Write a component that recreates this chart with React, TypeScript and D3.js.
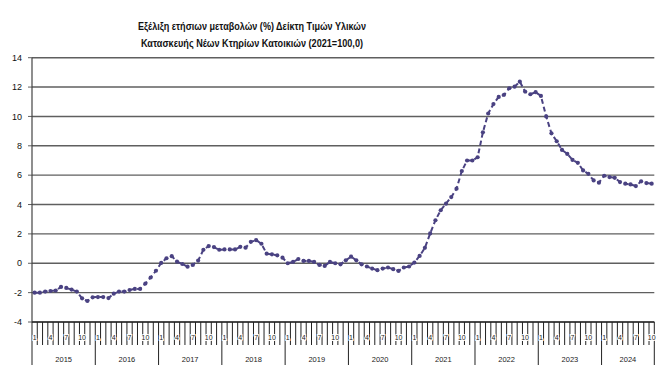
import React from "react";
import * as d3 from "d3";

const titleLines = [
  "Εξέλιξη ετήσιων μεταβολών (%) Δείκτη Τιμών Υλικών",
  "Κατασκευής Νέων Κτηρίων Κατοικιών (2021=100,0)",
];
const years = ["2015", "2016", "2017", "2018", "2019", "2020", "2021", "2022", "2023", "2024"];
const monthLabels = ["1", "4", "7", "10"];
const yTicks = [-4, -2, 0, 2, 4, 6, 8, 10, 12, 14];

const v2015 = [-2.0, -2.0, -1.93, -1.89, -1.86, -1.61, -1.68, -1.79, -1.93, -2.39, -2.57, -2.32];
const v2016 = [-2.3, -2.3, -2.37, -2.07, -1.93, -1.93, -1.82, -1.75, -1.75, -1.38, -0.97, -0.51];
const v2017 = [0.02, 0.34, 0.48, 0.11, -0.05, -0.23, -0.11, 0.18, 0.92, 1.17, 1.1, 0.92];
const v2018 = [0.94, 0.94, 0.94, 1.12, 1.06, 1.46, 1.57, 1.33, 0.65, 0.61, 0.54, 0.38];
const v2019 = [0.0, 0.09, 0.29, 0.16, 0.16, 0.09, -0.11, -0.18, 0.09, 0.0, -0.07, 0.2];
const v2020 = [0.45, 0.2, -0.07, -0.22, -0.36, -0.47, -0.36, -0.29, -0.4, -0.52, -0.29, -0.22];
const v2021 = [0.05, 0.5, 1.05, 2.03, 2.93, 3.61, 4.06, 4.51, 5.08, 6.28, 7.0, 7.0];
const v2022 = [7.22, 8.92, 10.2, 10.84, 11.33, 11.47, 11.92, 12.03, 12.37, 11.69, 11.51, 11.65];
const v2023 = [11.4, 10.0, 8.85, 8.31, 7.72, 7.45, 7.04, 6.84, 6.32, 6.09, 5.64, 5.49];
const v2024 = [5.96, 5.87, 5.82, 5.53, 5.42, 5.37, 5.26, 5.58, 5.46, 5.42];

const values = [...v2015, ...v2016, ...v2017, ...v2018, ...v2019, ...v2020, ...v2021, ...v2022, ...v2023, ...v2024];

export default function App() {
  const W = 663, H = 381;
  const left = 32, right = 654.3, top = 57.7, bottom = 322;
  const n = values.length;
  const idx = d3.range(n);
  const x = d3.scaleBand<number>().domain(idx).range([left, right]).paddingInner(0).paddingOuter(0);
  const y = d3.scaleLinear().domain([-4, 14]).range([bottom, top]);
  const bw = x.bandwidth();
  const cx = (i: number) => (x(i) as number) + bw / 2;
  const line = d3.line<number>().x((_, i) => cx(i)).y((d) => y(d));
  const color = "#4a4282";
  const font = "'Liberation Sans', Arial, sans-serif";
  const gridColor = "#5f5f5f";

  return (
    <svg width={W} height={H} style={{ position: "absolute", left: 0, top: 0, background: "#fff" }}>
      {titleLines.map((t, k) => (
        <text key={k} x={252} y={30 + k * 17} textAnchor="middle" fontFamily={font} fontWeight="bold"
          fontSize={10.5} textLength={k === 0 ? 228 : 222} lengthAdjust="spacingAndGlyphs" fill="#111">{t}</text>
      ))}
      {yTicks.map((t) => (
        <g key={t}>
          <line x1={left} x2={right} y1={y(t)} y2={y(t)} stroke={gridColor} strokeWidth={1.4} />
          <line x1={left - 4} x2={left} y1={y(t)} y2={y(t)} stroke={gridColor} strokeWidth={1} />
          <text x={22} y={y(t)} dy="0.35em" textAnchor="end" fontFamily={font} fontSize={9} fill="#111">{t}</text>
        </g>
      ))}
      <line x1={left} x2={left} y1={top} y2={bottom} stroke="#444" strokeWidth={1.2} />
      <line x1={left} x2={right} y1={bottom} y2={bottom} stroke="#333" strokeWidth={1.4} />
      {d3.range(n + 1).map((i) => {
        const xx = i < n ? (x(i) as number) : right;
        const isYear = i % 12 === 0 || i === n;
        return <line key={"t" + i} x1={xx} x2={xx} y1={bottom} y2={isYear ? 365 : 345} stroke="#222" strokeWidth={1} />;
      })}
      {idx.filter((i) => monthLabels.includes(String((i % 12) + 1))).map((i) => (
        <text key={"m" + i} x={cx(i)} y={340} textAnchor="middle" fontFamily={font} fontSize={7} fill="#222"
          style={{ paintOrder: "stroke" }} stroke="#fff" strokeWidth={2}>{(i % 12) + 1}</text>
      ))}
      {years.map((yr, k) => {
        const i0 = k * 12;
        const i1 = Math.min(n, i0 + 12);
        const x0 = x(i0) as number;
        const x1 = i1 < n ? (x(i1) as number) : right;
        return <text key={yr} x={(x0 + x1) / 2} y={362} textAnchor="middle" fontFamily={font} fontSize={7.5} fill="#222">{yr}</text>;
      })}
      <path d={line(values) || ""} fill="none" stroke={color} strokeWidth={2} strokeDasharray="5,3" />
      {values.map((v, i) => (
        <circle key={i} cx={cx(i)} cy={y(v)} r={2.1} fill={color} />
      ))}
    </svg>
  );
}
